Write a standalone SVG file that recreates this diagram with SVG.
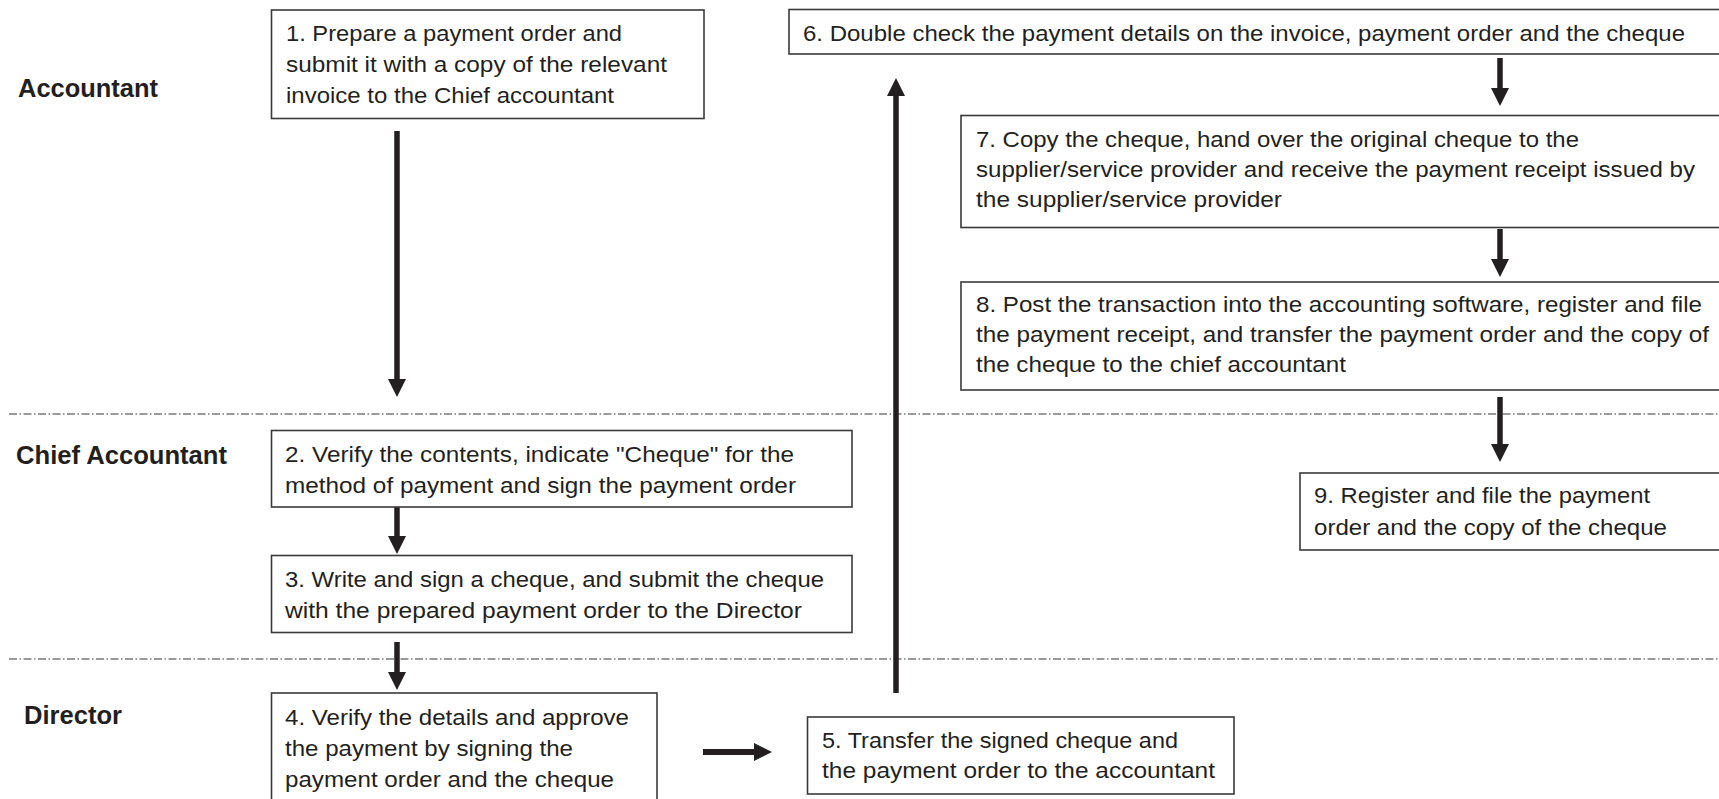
<svg xmlns="http://www.w3.org/2000/svg" width="1719" height="799" viewBox="0 0 1719 799">
  <style>
    .box { fill: #ffffff; stroke: #3a3a3a; stroke-width: 1.6; }
    .txt { font-family: "Liberation Sans", Arial, sans-serif; font-size: 22.5px; fill: #231f20; }
    .lane { font-family: "Liberation Sans", Arial, sans-serif; font-size: 25.5px; font-weight: bold; fill: #231f20; }
    .sep { stroke: #7a7a7a; stroke-width: 1.3; stroke-dasharray: 8 2.5 1.5 2.5; fill: none; }
    .flow { stroke: #231f20; stroke-width: 5.5; fill: none; marker-end: url(#head); }
  </style>
  <defs>
    <marker id="head" markerUnits="userSpaceOnUse" markerWidth="18" markerHeight="18" refX="6" refY="9" orient="auto">
      <path d="M0,0 L18,9 L0,18 Z" fill="#231f20"/>
    </marker>
  </defs>

  <rect width="1719" height="799" fill="#ffffff"/>

  <!-- swimlane separators -->
  <g id="separators">
    <line class="sep" x1="9" y1="414" x2="1719" y2="414"/>
    <line class="sep" x1="9" y1="659" x2="1719" y2="659"/>
  </g>

  <!-- lane titles -->
  <g id="lane-accountant"><text class="lane" x="18" y="97" textLength="140" lengthAdjust="spacingAndGlyphs">Accountant</text></g>
  <g id="lane-chief"><text class="lane" x="16" y="464" textLength="211" lengthAdjust="spacingAndGlyphs">Chief Accountant</text></g>
  <g id="lane-director"><text class="lane" x="24" y="724" textLength="98" lengthAdjust="spacingAndGlyphs">Director</text></g>

  <!-- connectors -->
  <g id="connectors">
    <line class="flow" x1="397" y1="131" x2="397" y2="385"/>
    <line class="flow" x1="397" y1="507" x2="397" y2="542"/>
    <line class="flow" x1="397" y1="642" x2="397" y2="678"/>
    <line class="flow" x1="703" y1="752" x2="760" y2="752" style="stroke-width:6"/>
    <line class="flow" x1="896" y1="693" x2="896" y2="90"/>
    <line class="flow" x1="1500" y1="58" x2="1500" y2="94"/>
    <line class="flow" x1="1500" y1="229" x2="1500" y2="265"/>
    <line class="flow" x1="1500" y1="397" x2="1500" y2="450"/>
  </g>

  <!-- step 1 -->
  <g id="step1">
    <rect class="box" x="271.5" y="10" width="432.5" height="108.5"/>
    <text class="txt" x="286" y="40.5" textLength="336" lengthAdjust="spacingAndGlyphs">1. Prepare a payment order and</text>
    <text class="txt" x="286" y="72" textLength="381" lengthAdjust="spacingAndGlyphs">submit it with a copy of the relevant</text>
    <text class="txt" x="286" y="103" textLength="328" lengthAdjust="spacingAndGlyphs">invoice to the Chief accountant</text>
  </g>

  <!-- step 2 -->
  <g id="step2">
    <rect class="box" x="271.5" y="430.5" width="580.5" height="76.5"/>
    <text class="txt" x="285" y="462" textLength="509" lengthAdjust="spacingAndGlyphs">2. Verify the contents, indicate "Cheque" for the</text>
    <text class="txt" x="285" y="493" textLength="511" lengthAdjust="spacingAndGlyphs">method of payment and sign the payment order</text>
  </g>

  <!-- step 3 -->
  <g id="step3">
    <rect class="box" x="271.5" y="555.5" width="580.5" height="77"/>
    <text class="txt" x="285" y="587" textLength="539" lengthAdjust="spacingAndGlyphs">3. Write and sign a cheque, and submit the cheque</text>
    <text class="txt" x="285" y="618" textLength="517" lengthAdjust="spacingAndGlyphs">with the prepared payment order to the Director</text>
  </g>

  <!-- step 4 -->
  <g id="step4">
    <rect class="box" x="271.5" y="693" width="385.5" height="112"/>
    <text class="txt" x="285" y="725" textLength="344" lengthAdjust="spacingAndGlyphs">4. Verify the details and approve</text>
    <text class="txt" x="285" y="756" textLength="288" lengthAdjust="spacingAndGlyphs">the payment by signing the</text>
    <text class="txt" x="285" y="787" textLength="329" lengthAdjust="spacingAndGlyphs">payment order and the cheque</text>
  </g>

  <!-- step 5 -->
  <g id="step5">
    <rect class="box" x="807.5" y="717" width="426.5" height="77"/>
    <text class="txt" x="822" y="748" textLength="356" lengthAdjust="spacingAndGlyphs">5. Transfer the signed cheque and</text>
    <text class="txt" x="822" y="778" textLength="393" lengthAdjust="spacingAndGlyphs">the payment order to the accountant</text>
  </g>

  <!-- step 6 -->
  <g id="step6">
    <rect class="box" x="789" y="9.5" width="935" height="44.5"/>
    <text class="txt" x="803" y="41" textLength="882" lengthAdjust="spacingAndGlyphs">6. Double check the payment details on the invoice, payment order and the cheque</text>
  </g>

  <!-- step 7 -->
  <g id="step7">
    <rect class="box" x="961" y="115.5" width="763" height="112"/>
    <text class="txt" x="976" y="147" textLength="603" lengthAdjust="spacingAndGlyphs">7. Copy the cheque, hand over the original cheque to the</text>
    <text class="txt" x="976" y="177" textLength="719" lengthAdjust="spacingAndGlyphs">supplier/service provider and receive the payment receipt issued by</text>
    <text class="txt" x="976" y="207" textLength="306" lengthAdjust="spacingAndGlyphs">the supplier/service provider</text>
  </g>

  <!-- step 8 -->
  <g id="step8">
    <rect class="box" x="961" y="282" width="763" height="108"/>
    <text class="txt" x="976" y="312" textLength="726" lengthAdjust="spacingAndGlyphs">8. Post the transaction into the accounting software, register and file</text>
    <text class="txt" x="976" y="342" textLength="733" lengthAdjust="spacingAndGlyphs">the payment receipt, and transfer the payment order and the copy of</text>
    <text class="txt" x="976" y="372" textLength="370" lengthAdjust="spacingAndGlyphs">the cheque to the chief accountant</text>
  </g>

  <!-- step 9 -->
  <g id="step9">
    <rect class="box" x="1300" y="473" width="424" height="77"/>
    <text class="txt" x="1314" y="503" textLength="336" lengthAdjust="spacingAndGlyphs">9. Register and file the payment</text>
    <text class="txt" x="1314" y="535" textLength="353" lengthAdjust="spacingAndGlyphs">order and the copy of the cheque</text>
  </g>
</svg>
